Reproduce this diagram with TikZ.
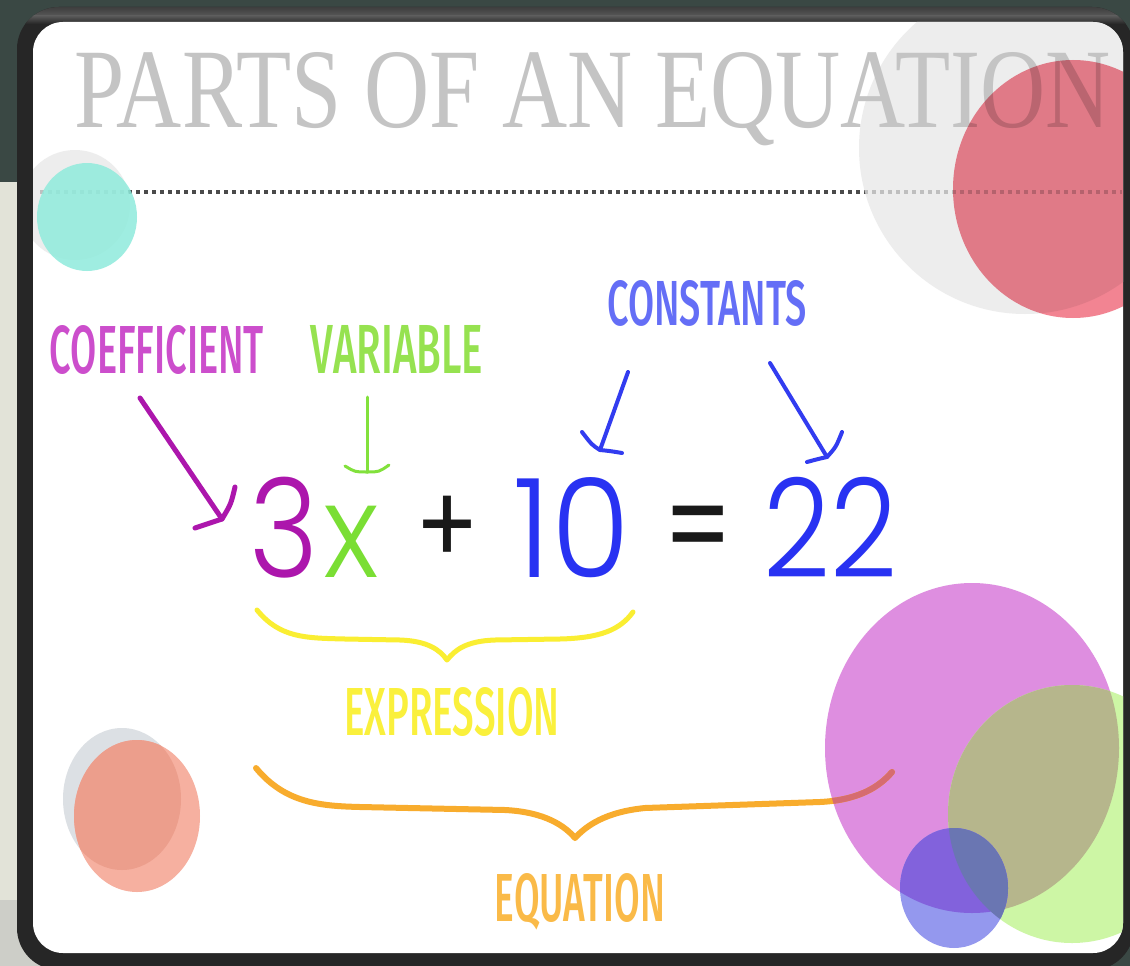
\documentclass[tikz,border=0pt]{standalone}
\usepackage{fontspec}
\usepackage{graphicx}
\newfontfamily\eqff{Poppins Light}
\newfontfamily\opff{Poppins}
\newfontfamily\lblff{Fira Sans Medium}
\newfontfamily\titleff{Liberation Serif}
\definecolor{bgdark}{RGB}{58,72,68}
\definecolor{bgbeige}{RGB}{226,227,216}
\definecolor{bglight}{RGB}{205,206,200}
\definecolor{framedark}{RGB}{38,38,38}
\definecolor{framehl}{RGB}{88,88,88}
\definecolor{dotcol}{RGB}{75,75,75}
\definecolor{graycirc}{RGB}{231,231,231}
\definecolor{titlecol}{RGB}{196,196,196}
\definecolor{redcol}{RGB}{242,132,146}
\definecolor{tealcol}{RGB}{143,235,220}
\definecolor{blgray}{RGB}{220,224,228}
\definecolor{salmonL}{RGB}{246,176,160}
\definecolor{salmonD}{RGB}{236,158,140}
\definecolor{magcol}{RGB}{222,142,224}
\definecolor{greencol}{RGB}{205,246,165}
\definecolor{olivecol}{RGB}{182,182,140}
\definecolor{bluecol}{RGB}{148,152,238}
\definecolor{purplecol}{RGB}{130,98,220}
\definecolor{slatecol}{RGB}{106,118,178}
\definecolor{orangecol}{RGB}{248,172,45}
\definecolor{orangeM}{RGB}{214,108,112}
\definecolor{yellowcol}{RGB}{250,238,50}
\definecolor{coefcol}{RGB}{204,78,204}
\definecolor{varcol}{RGB}{150,226,80}
\definecolor{constcol}{RGB}{100,110,246}
\definecolor{exprcol}{RGB}{250,240,60}
\definecolor{equcol}{RGB}{250,186,72}
\definecolor{threecol}{RGB}{172,22,172}
\definecolor{xcol}{RGB}{122,222,52}
\definecolor{numcol}{RGB}{40,50,242}
\definecolor{opcol}{RGB}{25,25,25}
\definecolor{coefarr}{RGB}{172,22,172}
\definecolor{vararr}{RGB}{130,225,60}
\definecolor{constarr}{RGB}{50,60,240}
\newlength\dighgt
\begin{document}
\settoheight{\dighgt}{\fontsize{100pt}{100pt}\selectfont\eqff 0}%
\pgfmathsetmacro\eqsize{max(1,100*100/\dighgt)}%
\def\eqf{\fontsize{\eqsize pt}{\eqsize pt}\selectfont\eqff}%
\def\opf{\fontsize{\eqsize pt}{\eqsize pt}\selectfont\opff}%
\begin{tikzpicture}[x=1pt,y=-1pt,
  lbl/.style={inner sep=0pt, anchor=north},
  eqg/.style={inner sep=0pt, anchor=base},
  eqop/.style={inner sep=0pt, anchor=center},
  hand/.style={line cap=round, line join=round},
  bracestroke/.style={line cap=round, line join=round},
]
\useasboundingbox (0,0) rectangle (1130,966);
% background outside the frame
\fill[bgdark] (0,0) rectangle (1130,966);
\fill[bgbeige] (0,182) rectangle (42,900);
\fill[bglight] (0,900) rectangle (42,966);
% frame
\fill[framedark, rounded corners=42pt] (17,7) rectangle (1134,970);
\begin{scope}
  \clip[rounded corners=42pt] (17,7) rectangle (1134,970);
  \shade[top color=framehl!70!black, bottom color=framehl] (0,7) rectangle (1134,16);
  \shade[top color=framehl, bottom color=framedark] (0,16) rectangle (1134,24);
\end{scope}
\fill[white, rounded corners=30pt] (33,22) rectangle (1123,953);
\begin{scope}
\clip[rounded corners=30pt] (33,22) rectangle (1123,953);
% dotted rule
\draw[dotcol, line width=3.5pt, dash pattern=on 3.5pt off 4.5pt] (40,192) -- (1122,192);
% top-left circles
\fill[graycirc, opacity=0.75] (75,205) circle [radius=55];
\fill[tealcol, opacity=0.85] (87,217) ellipse [x radius=50, y radius=54];
% top-right circles
\fill[graycirc, opacity=0.75] (1025,148) circle [radius=166];
\node[lbl, text=titlecol] (title) at (593,52) {\resizebox{1036pt}{75pt}{\titleff PARTS OF AN EQUATION}};
\begin{scope}[blend mode=multiply]
  \fill[redcol] (1073,189) ellipse [x radius=120, y radius=129];
\end{scope}
% bottom-left circles
\fill[blgray] (122,799) ellipse [x radius=59, y radius=71];
\fill[salmonL] (137,816) ellipse [x radius=63, y radius=76];
\begin{scope}
  \clip (122,799) ellipse [x radius=59, y radius=71];
  \fill[salmonD] (137,816) ellipse [x radius=63, y radius=76];
\end{scope}
% bottom-right circles
\fill[magcol] (972,748) ellipse [x radius=147, y radius=165];
\fill[greencol] (1072,814) ellipse [x radius=124, y radius=129];
\begin{scope}
  \clip (972,748) ellipse [x radius=147, y radius=165];
  \fill[olivecol] (1072,814) ellipse [x radius=124, y radius=129];
\end{scope}
\fill[bluecol] (954,888) ellipse [x radius=54, y radius=60];
\begin{scope}
  \clip (954,888) ellipse [x radius=54, y radius=60];
  \fill[purplecol] (972,748) ellipse [x radius=147, y radius=165];
  \fill[slatecol] (1072,814) ellipse [x radius=124, y radius=129];
\end{scope}
% braces
\draw[bracestroke, yellowcol, line width=5pt]
  (257,610) .. controls (280,638) and (305,638) .. (345,639) -- (400,640)
  .. controls (428,641) and (440,650) .. (447,660)
  .. controls (455,650) and (466,641) .. (495,640) -- (560,639)
  .. controls (600,638) and (620,630) .. (633,612);
\def\eqbrace{(256,768) .. controls (285,803) and (320,806) .. (360,807) -- (505,810)
  .. controls (545,812) and (565,826) .. (575,838)
  .. controls (586,826) and (605,812) .. (645,808) -- (820,802)
  .. controls (860,800) and (880,786) .. (892,772)}
\draw[bracestroke, orangecol, line width=6pt] \eqbrace;
\begin{scope}
  \clip (972,748) ellipse [x radius=147, y radius=165];
  \draw[bracestroke, orangeM, line width=6pt] \eqbrace;
\end{scope}
\end{scope}
% labels
\node[lbl, text=coefcol] (coef) at (157,325) {\resizebox{214pt}{48pt}{\lblff COEFFICIENT}};
\node[lbl, text=varcol] (var) at (397,325) {\resizebox{172pt}{48pt}{\lblff VARIABLE}};
\node[lbl, text=constcol] (const) at (707,280) {\resizebox{199pt}{45pt}{\lblff CONSTANTS}};
\node[lbl, text=exprcol] (expr) at (452,687) {\resizebox{215pt}{48pt}{\lblff EXPRESSION}};
\node[lbl, text=equcol] (equ) at (580,873) {\resizebox{170pt}{48pt}{\lblff EQUATION}};
% equation
\node[eqg, text=threecol] (n3) at (284,577) {\scalebox{0.86}[1]{\eqf 3}};
\node[eqg, text=xcol] (nx) at (351,577) {\scalebox{0.88}[0.95]{\eqf x}};
\node[eqop, text=opcol] (nplus) at (447,530) {\scalebox{0.68}[0.8]{\opf +}};
\node[eqg, text=numcol] (n10) at (572,577) {\scalebox{0.93}[1]{\eqf 10}};
\node[eqop, text=opcol] (neq) at (698,538) {\scalebox{0.7}[0.9]{\opf =}};
\node[eqg, text=numcol] (n22) at (830,577) {\scalebox{0.85}[1]{\eqf 22}};
% arrows
\coordinate (coefS) at (140,398);
\coordinate (coefT) at (222,519);
\draw[hand, coefarr, line width=5pt] (coefS) -- (coefT);
\draw[hand, coefarr, line width=5pt] (235,487) .. controls (231,504) .. (coefT) .. controls (210,523) .. (195,528);
\coordinate (varS) at (367,397);
\coordinate (varT) at (367,472);
\draw[hand, vararr, line width=3pt] (varS) -- (varT);
\draw[hand, vararr, line width=3pt] (345,466) .. controls (355,472) .. (varT) .. controls (379,472) .. (389,465);
\coordinate (c1S) at (628,372);
\coordinate (c1T) at (600,450);
\draw[hand, constarr, line width=4pt] (c1S) -- (c1T);
\draw[hand, constarr, line width=4pt] (582,432) .. controls (592,445) .. (c1T) .. controls (610,451) .. (622,453);
\coordinate (c2S) at (770,363);
\coordinate (c2T) at (827,457);
\draw[hand, constarr, line width=4pt] (c2S) -- (c2T);
\draw[hand, constarr, line width=4pt] (842,432) .. controls (836,447) .. (c2T) .. controls (818,459) .. (807,462);
\end{tikzpicture}
\end{document}
